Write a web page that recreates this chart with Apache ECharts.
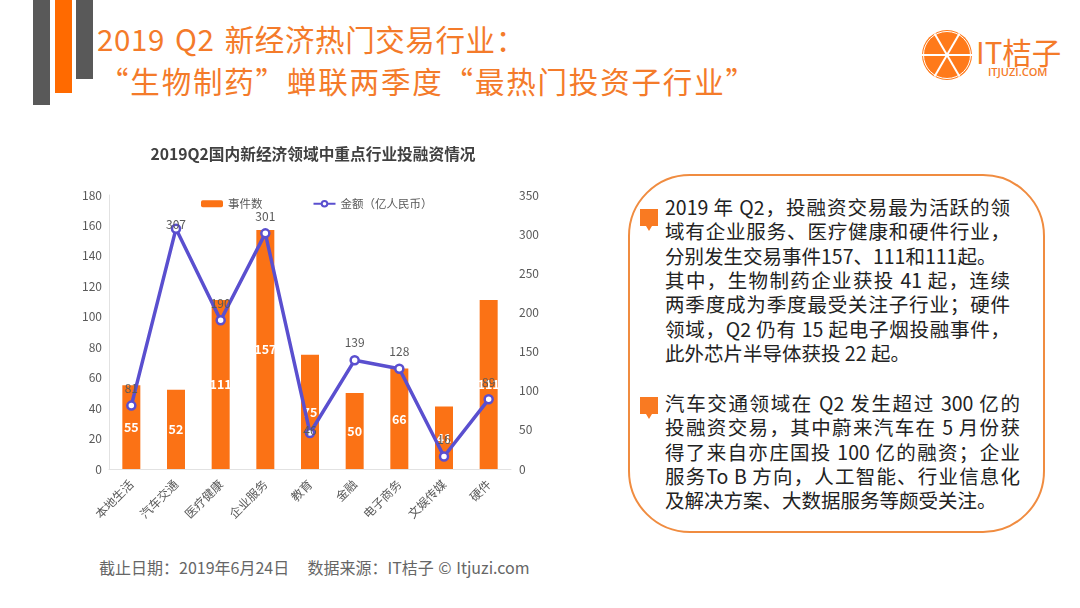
<!DOCTYPE html>
<html>
<head>
<meta charset="utf-8">
<script src="https://cdn.jsdelivr.net/npm/echarts@6/dist/echarts.min.js"></script>
<style>
html, body { margin: 0; padding: 0; background: #fff; }
body { width: 1080px; height: 608px; position: relative; overflow: hidden; font-family: "Noto Sans CJK SC", sans-serif; }
.bar { position: absolute; top: 0; width: 17px; }
.head { position: absolute; color: #f47b2a; font-size: 29.5px; line-height: 36px; white-space: pre; }
#chart { position: absolute; left: 0; top: 130px; width: 600px; height: 420px; }
#box { position: absolute; left: 628px; top: 174px; width: 413px; height: 355px; border: 2.5px solid #f08c40; border-radius: 62px; }
.ln { position: absolute; left: 665px; font-size: 19.5px; line-height: 24px; color: #222; white-space: pre; text-align-last: justify; }
.ln.end { text-align-last: left; }
.mark { position: absolute; left: 640px; }
#foot { position: absolute; left: 99px; top: 556px; font-size: 16px; line-height: 22px; color: #666; white-space: pre; word-spacing: 1px; }
#logo { position: absolute; left: 921px; top: 29px; }
#logo1 { position: absolute; left: 976px; top: 32px; font-size: 29.5px; line-height: 38px; color: #f47b2a; white-space: pre; }
#logo2 { position: absolute; left: 988px; top: 65px; font-size: 11px; line-height: 14px; color: #f47b2a; white-space: pre; font-family: "Open Sans", sans-serif; font-weight: 600; }
</style>
</head>
<body>
<div class="bar" style="left:33px;height:105px;background:#595959"></div>
<div class="bar" style="left:55px;height:93px;background:#ff6a00"></div>
<div class="bar" style="left:76px;height:79px;background:#595959"></div>
<div class="head" style="left:97px;top:20px;letter-spacing:0.6px;word-spacing:3px">2019 Q2 新经济热门交易行业：</div>
<div class="head" style="left:99px;top:62px;width:656px;text-align-last:justify">“生物制药”蝉联两季度“最热门投资子行业”</div>

<svg id="logo" width="52" height="52" viewBox="-26 -26 52 52">
  <circle r="25" fill="#ff7a1a"/>
  <circle r="23.5" fill="none" stroke="#fff" stroke-width="1"/>
  <g stroke="#fff" stroke-width="2">
    <line x1="-25" y1="0" x2="25" y2="0"/>
    <line x1="-12.5" y1="-21.6" x2="12.5" y2="21.6"/>
    <line x1="12.5" y1="-21.6" x2="-12.5" y2="21.6"/>
  </g>
</svg>
<div id="logo1">IT桔子</div>
<div id="logo2">ITJUZI.COM</div>

<div id="chart"></div>

<div id="box"></div>
<svg class="mark" style="top:209px" width="19" height="23"><path d="M0 0H18V17H12L9 22L6 17H0Z" fill="#f97a22"/></svg>
<svg class="mark" style="top:397px" width="19" height="23"><path d="M0 0H18V17H12L9 22L6 17H0Z" fill="#f97a22"/></svg>
<div id="text"></div>

<div id="foot">截止日期：2019年6月24日    数据来源：IT桔子 © Itjuzi.com</div>

<script>
var categories = ['本地生活','汽车交通','医疗健康','企业服务','教育','金融','电子商务','文娱传媒','硬件'];
var eventCounts = [55,52,111,157,75,50,66,41,111];
var amounts = [81,307,190,301,46,139,128,16,89];

var para1 = [
	'2019 年 Q2，投融资交易最为活跃的领',
	'域有企业服务、医疗健康和硬件行业，',
	'分别发生交易事件157、111和111起。',
	'其中，生物制药企业获投 41 起，连续',
	'两季度成为季度最受关注子行业；硬件',
	'领域，Q2 仍有 15 起电子烟投融事件，',
	'此外芯片半导体获投 22 起。'
];
var para2 = [
	'汽车交通领域在 Q2 发生超过 300 亿的',
	'投融资交易，其中蔚来汽车在 5 月份获',
	'得了来自亦庄国投 100 亿的融资；企业',
	'服务To B 方向，人工智能、行业信息化',
	'及解决方案、大数据服务等颇受关注。'
];

function addLines(lines, top, width, leftAligned) {
	var box = document.getElementById('text');
	lines.forEach(function(t, i) {
		var d = document.createElement('div');
		d.className = 'ln' + (leftAligned.indexOf(i) >= 0 ? ' end' : '');
		d.style.top = (top + i * 24.3) + 'px';
		d.style.width = width + 'px';
		d.textContent = t;
		box.appendChild(d);
	});
}
addLines(para1, 195, 345, [2, 6]);
addLines(para2, 391, 355, [4]);

// two labels sit lower in the reference, on top of their markers
var labelOffsets = { 1: [0, 13], 4: [0, 15] };
var amountData = amounts.map(function(v, i) {
	return labelOffsets[i] ? { value: v, label: { offset: labelOffsets[i] } } : v;
});

var myChart = echarts.init(document.getElementById('chart'), null, { renderer: 'canvas' });
var axisText = { color: '#595959', fontSize: 12, fontFamily: 'Noto Sans CJK SC' };
myChart.setOption({
	animation: false,
	title: {
		text: '2019Q2国内新经济领域中重点行业投融资情况',
		left: 308, top: 11, textAlign: 'center',
		textStyle: { fontSize: 15.7, fontWeight: 'bold', color: '#404040', fontFamily: 'Noto Sans CJK SC' }
	},
	legend: {
		left: 196, top: 63, itemGap: 50, itemWidth: 22, itemHeight: 7,
		data: ['事件数','金额（亿人民币）'],
		textStyle: { color: '#595959', fontSize: 11.5, fontFamily: 'Noto Sans CJK SC' }
	},
	grid: { left: 109, right: 89, top: 65, bottom: 81 },
	xAxis: {
		type: 'category', data: categories,
		axisLine: { lineStyle: { color: '#e2e2e2', width: 1 } },
		axisTick: { show: false },
		axisLabel: Object.assign({ rotate: 45, interval: 0, margin: 13 }, axisText)
	},
	yAxis: [
		{
			type: 'value', min: 0, max: 180, interval: 20,
			axisLine: { show: true, lineStyle: { color: '#e2e2e2' } },
			axisTick: { show: false }, splitLine: { show: false },
			axisLabel: Object.assign({ margin: 7 }, axisText)
		},
		{
			type: 'value', min: 0, max: 350, interval: 50,
			axisLine: { show: false },
			axisTick: { show: false }, splitLine: { show: false },
			axisLabel: Object.assign({ margin: 8 }, axisText)
		}
	],
	series: [
		{
			name: '事件数', type: 'bar', data: eventCounts, barWidth: 18,
			itemStyle: { color: '#fb7215' },
			label: { show: true, position: 'inside', color: '#fff', fontSize: 12.5, fontWeight: 'bold', fontFamily: 'Noto Sans CJK SC' }
		},
		{
			name: '金额（亿人民币）', type: 'line', yAxisIndex: 1, data: amountData,
			symbol: 'circle', symbolSize: 8,
			lineStyle: { color: '#5a4fcf', width: 3.5 },
			itemStyle: { color: '#fff', borderColor: '#5a4fcf', borderWidth: 2.5 },
			label: { show: true, position: 'top', distance: 6, color: '#595959', fontSize: 12, fontFamily: 'Noto Sans CJK SC' }
		}
	]
});
</script>
</body>
</html>
